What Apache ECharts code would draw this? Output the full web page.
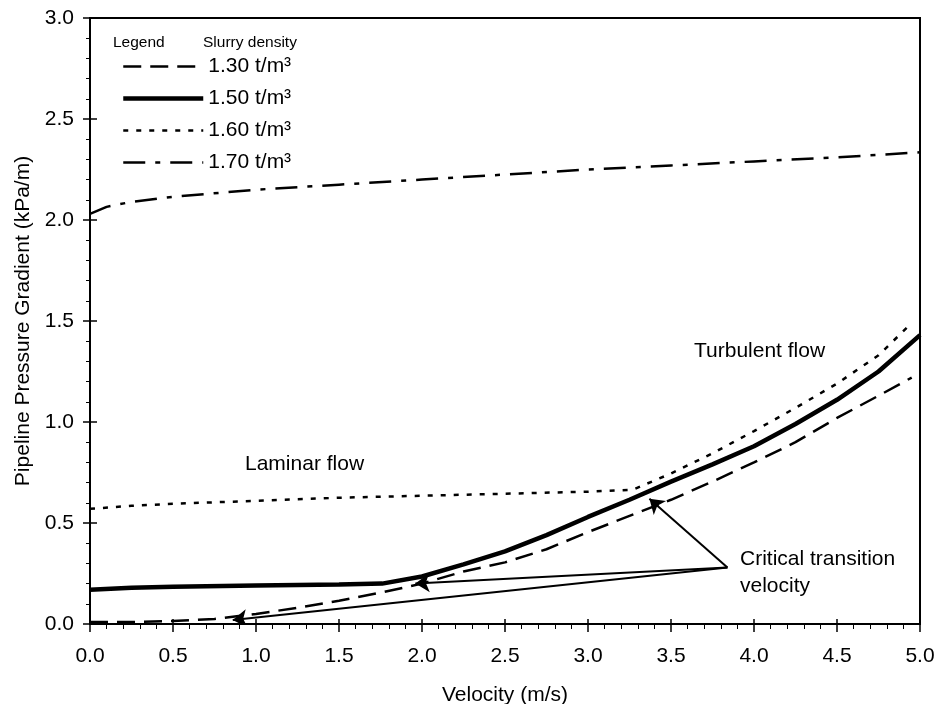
<!DOCTYPE html>
<html>
<head>
<meta charset="utf-8">
<script src="https://cdn.jsdelivr.net/npm/echarts@6/dist/echarts.min.js"></script>
<style>html,body{margin:0;padding:0;background:#fff}#c{width:937px;height:704px}</style>
</head>
<body>
<div id="c"></div>
<script>
// ---- data ----
const seriesNames = ['1.30 t/m³', '1.50 t/m³', '1.60 t/m³', '1.70 t/m³'];
const v130 = [0, 0.25, 0.5, 0.75, 1.0, 1.25, 1.5, 1.75, 2.0, 2.25, 2.5, 2.75, 3.0, 3.25, 3.5, 3.75, 4.0, 4.25, 4.5, 4.75, 4.95];
const p130 = [0.01, 0.01, 0.015, 0.025, 0.05, 0.08, 0.115, 0.155, 0.2, 0.26, 0.305, 0.37, 0.455, 0.535, 0.615, 0.705, 0.8, 0.9, 1.02, 1.13, 1.22];
const v150 = [0, 0.25, 0.5, 1.0, 1.5, 1.76, 2.0, 2.25, 2.5, 2.75, 3.0, 3.25, 3.5, 3.75, 4.0, 4.25, 4.5, 4.75, 5.0];
const p150 = [0.17, 0.18, 0.185, 0.19, 0.195, 0.2, 0.235, 0.295, 0.36, 0.44, 0.53, 0.615, 0.705, 0.79, 0.88, 0.99, 1.11, 1.25, 1.43];
const v160 = [0, 0.25, 0.5, 1.0, 1.5, 2.0, 2.5, 3.0, 3.27, 3.5, 3.75, 4.0, 4.25, 4.5, 4.75, 4.95];
const p160 = [0.57, 0.585, 0.595, 0.61, 0.625, 0.635, 0.645, 0.655, 0.665, 0.745, 0.845, 0.955, 1.07, 1.19, 1.33, 1.49];
const v170 = [0, 0.1, 0.25, 0.5, 1.0, 1.5, 2.0, 2.5, 3.0, 3.5, 4.0, 4.5, 5.0];
const p170 = [2.03, 2.065, 2.09, 2.115, 2.15, 2.175, 2.2, 2.225, 2.25, 2.27, 2.29, 2.31, 2.335];
// arrows: from label anchor to critical transition points
const arrowFrom = [3.84, 0.28];
const arrowTo = [[3.37, 0.62], [1.96, 0.2], [0.86, 0.02]];
const xTicks = {min: 0, max: 5, step: 0.5};
const yTicks = {min: 0, max: 3, step: 0.5};

const zip = (xs, ys) => xs.map((x, i) => [x, ys[i]]);
const FONT = 'Liberation Sans, Arial, sans-serif';

const styles = [
  {color: '#000', width: 2.5, type: [18, 9]},
  {color: '#000', width: 4.5, type: 'solid'},
  {color: '#000', width: 2.5, type: [5, 8]},
  {color: '#000', width: 2.5, type: [22, 10, 5, 10]}
];
const xs = [v130, v150, v160, v170];
const ys = [p130, p150, p160, p170];

const chart = echarts.init(document.getElementById('c'), null, {renderer: 'canvas'});

const lineSeries = seriesNames.map((n, i) => ({
  type: 'line', name: n, symbol: 'none', smooth: false, silent: true, z: 3,
  data: zip(xs[i], ys[i]),
  lineStyle: styles[i], itemStyle: {color: '#000'}
}));

chart.setOption({
  animation: false,
  backgroundColor: '#fff',
  textStyle: {fontFamily: FONT},
  grid: {left: 90, right: 17, top: 18, bottom: 80, show: true, borderColor: '#000', borderWidth: 2,
    containLabel: false, outerBoundsMode: 'none'},
  legend: {
    orient: 'vertical', left: 116, top: 51,
    itemWidth: 80, itemHeight: 14, itemGap: 11,
    textStyle: {fontSize: 21, color: '#000', fontFamily: FONT},
    itemStyle: {color: 'transparent', borderWidth: 0, opacity: 0},
    data: seriesNames.map((n, i) => ({name: n, lineStyle: styles[i]}))
  },
  xAxis: [{
    type: 'value', min: xTicks.min, max: xTicks.max, interval: xTicks.step,
    name: 'Velocity (m/s)', nameLocation: 'middle', nameGap: 61,
    nameTextStyle: {fontSize: 21, color: '#000', fontFamily: FONT},
    axisLine: {show: true, onZero: false, lineStyle: {color: '#000', width: 2}},
    axisTick: {show: true, inside: false, length: 8, lineStyle: {color: '#000', width: 1.5}},
    minorTick: {show: true, splitNumber: 5, length: 5, lineStyle: {color: '#000', width: 1}},
    axisLabel: {fontSize: 21, color: '#000', margin: 22, fontFamily: FONT, formatter: v => v.toFixed(1)},
    splitLine: {show: false}
  }, {
    type: 'value', min: xTicks.min, max: xTicks.max, interval: xTicks.step, position: 'bottom',
    axisLine: {show: false}, axisLabel: {show: false}, splitLine: {show: false},
    axisTick: {show: true, inside: true, length: 5, lineStyle: {color: '#000', width: 1.5}}
  }],
  yAxis: [{
    type: 'value', min: yTicks.min, max: yTicks.max, interval: yTicks.step,
    name: 'Pipeline Pressure Gradient (kPa/m)', nameLocation: 'middle', nameGap: 56,
    nameTextStyle: {fontSize: 21, color: '#000', fontFamily: FONT},
    axisLine: {show: true, onZero: false, lineStyle: {color: '#000', width: 2}},
    axisTick: {show: true, inside: false, length: 7, lineStyle: {color: '#000', width: 1.5}},
    minorTick: {show: true, splitNumber: 5, length: 4, lineStyle: {color: '#000', width: 1}},
    axisLabel: {fontSize: 21, color: '#000', margin: 16, fontFamily: FONT, formatter: v => v.toFixed(1)},
    splitLine: {show: false}
  }, {
    type: 'value', min: yTicks.min, max: yTicks.max, interval: yTicks.step, position: 'left',
    axisLine: {show: false}, axisLabel: {show: false}, splitLine: {show: false},
    axisTick: {show: true, inside: true, length: 7, lineStyle: {color: '#000', width: 1.5}}
  }],
  series: lineSeries.concat([{
    type: 'lines', coordinateSystem: 'cartesian2d', silent: true, z: 4,
    symbol: ['none', 'arrow'], symbolSize: [9, 14],
    lineStyle: {color: '#000', width: 2, opacity: 1, curveness: 0},
    data: arrowTo.map(t => ({coords: [arrowFrom, t]}))
  }]),
  graphic: [
    {type: 'text', left: 113, top: 35, style: {text: 'Legend', fontSize: 15.5, fill: '#000', fontFamily: FONT}},
    {type: 'text', left: 203, top: 35, style: {text: 'Slurry density', fontSize: 15.5, fill: '#000', fontFamily: FONT}},
    {type: 'text', left: 245, top: 454, style: {text: 'Laminar flow', fontSize: 21, fill: '#000', fontFamily: FONT}},
    {type: 'text', left: 694, top: 341, style: {text: 'Turbulent flow', fontSize: 21, fill: '#000', fontFamily: FONT}},
    {type: 'text', left: 740, top: 549, style: {text: 'Critical transition', fontSize: 21, fill: '#000', fontFamily: FONT}},
    {type: 'text', left: 740, top: 576, style: {text: 'velocity', fontSize: 21, fill: '#000', fontFamily: FONT}}
  ]
});
</script>
</body>
</html>
